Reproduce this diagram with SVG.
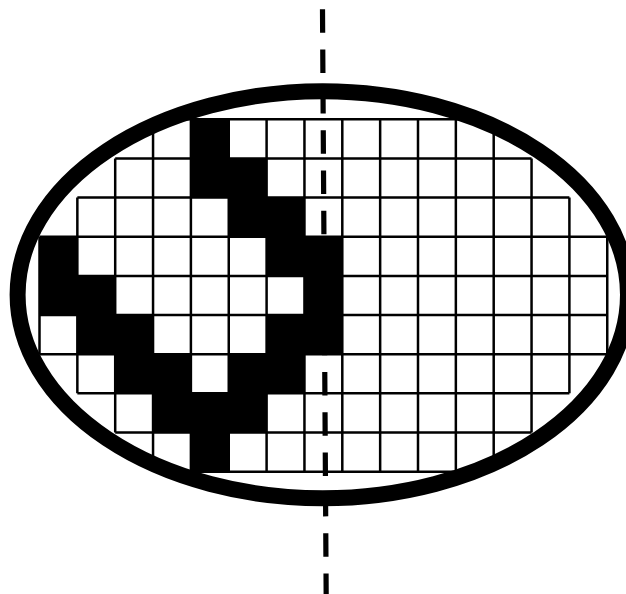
<svg xmlns="http://www.w3.org/2000/svg" width="626" height="594" viewBox="0 0 626 594">
  <style>
    .cell { fill: #000; stroke: none; }
    .grid { fill: none; stroke: #000; stroke-width: 2.5; }
    .axis { fill: none; stroke: #000; stroke-width: 5.2; stroke-dasharray: 23.5 16.8; }
    .rim { fill: none; stroke: #000; stroke-width: 16; }
  </style>
  <defs>
    <clipPath id="inside">
      <ellipse cx="322.8" cy="294.75" rx="305.2" ry="203.5"/>
    </clipPath>
  </defs>
  <rect x="0" y="0" width="626" height="594" fill="#fff"/>
  <g id="grid" clip-path="url(#inside)">
    <g id="black-cells">
      <rect class="cell" x="190.9" y="119.3" width="37.85" height="39.15"/>
      <rect class="cell" x="190.9" y="158.45" width="75.7" height="39.15"/>
      <rect class="cell" x="228.75" y="197.6" width="75.7" height="39.15"/>
      <rect class="cell" x="39.5" y="236.75" width="37.85" height="39.15"/>
      <rect class="cell" x="266.6" y="236.75" width="75.7" height="39.15"/>
      <rect class="cell" x="39.5" y="275.9" width="75.7" height="39.15"/>
      <rect class="cell" x="304.45" y="275.9" width="37.85" height="39.15"/>
      <rect class="cell" x="77.35" y="315.05" width="75.7" height="39.15"/>
      <rect class="cell" x="266.6" y="315.05" width="75.7" height="39.15"/>
      <rect class="cell" x="115.2" y="354.2" width="75.7" height="39.15"/>
      <rect class="cell" x="228.75" y="354.2" width="75.7" height="39.15"/>
      <rect class="cell" x="153.05" y="393.35" width="113.55" height="39.15"/>
      <rect class="cell" x="190.9" y="432.5" width="37.85" height="39.15"/>
    </g>
    <path id="grid-lines" class="grid" d="
      M153.05 119.3 H493.7
      M115.2 158.45 H531.55
      M77.35 197.6 H569.4
      M39.5 236.75 H607.25
      M39.5 275.9 H607.25
      M39.5 315.05 H607.25
      M39.5 354.2 H607.25
      M77.35 393.35 H569.4
      M115.2 432.5 H531.55
      M153.05 471.65 H493.7
      M39.5 236.75 V354.2
      M77.35 197.6 V393.35
      M115.2 158.45 V432.5
      M153.05 119.3 V471.65
      M190.9 119.3 V471.65
      M228.75 119.3 V471.65
      M266.6 119.3 V471.65
      M304.45 119.3 V471.65
      M342.3 119.3 V471.65
      M380.15 119.3 V471.65
      M418 119.3 V471.65
      M455.85 119.3 V471.65
      M493.7 119.3 V471.65
      M531.55 158.45 V432.5
      M569.4 197.6 V393.35
      M607.25 236.75 V354.2"/>
  </g>
  <g id="connectors">
    <line id="axis" class="axis" x1="322.5" y1="9.3" x2="326.2" y2="600"/>
  </g>
  <g id="rim">
    <ellipse class="rim" cx="322.8" cy="294.75" rx="305.2" ry="203.5"/>
  </g>
</svg>
